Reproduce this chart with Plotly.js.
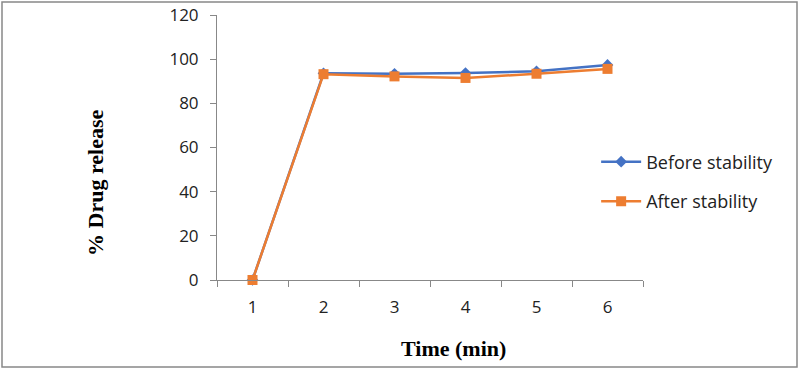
<!DOCTYPE html>
<html>
<head>
<meta charset="utf-8">
<script src="https://cdn.plot.ly/plotly-3.0.1.min.js"></script>
<style>html,body{margin:0;padding:0;background:#fff;}</style>
</head>
<body>
<div id="chart" style="width:799px;height:369px;"></div>
<script>
var categories = ["1", "2", "3", "4", "5", "6"];
var beforeStability = [0, 93.6, 93.4, 93.7, 94.5, 97.4];
var afterStability = [0, 93.2, 92.2, 91.5, 93.4, 95.6];
var yTicks = [0, 20, 40, 60, 80, 100, 120];

var traces = [
  {
    x: categories, y: beforeStability, name: "Before stability", legendgroup: "a",
    type: "scatter", mode: "lines+markers", cliponaxis: false,
    line: {color: "#4472C4", width: 2.5},
    marker: {symbol: "diamond", size: 9, color: "#4472C4"}
  },
  {
    x: categories, y: afterStability, name: "After stability", legendgroup: "b",
    type: "scatter", mode: "lines+markers", cliponaxis: false,
    line: {color: "#ED7D31", width: 2.5},
    marker: {symbol: "square", size: 10, color: "#ED7D31"}
  }
];

var tickFont = {family: "Open Sans, Liberation Sans, sans-serif", size: 17, color: "#222"};

var layout = {
  width: 799, height: 369,
  margin: {l: 217, r: 156, t: 15, b: 89},
  paper_bgcolor: "#ffffff", plot_bgcolor: "#ffffff",
  showlegend: true,
  legend: {x: 0.89, y: 0.515, xanchor: "left", yanchor: "top", traceorder: "grouped",
           font: {family: "Open Sans, Liberation Sans, sans-serif", size: 18, color: "#222"},
           tracegroupgap: 13, itemwidth: 40, bgcolor: "rgba(0,0,0,0)"},
  xaxis: {
    type: "category", range: [-0.5, 5.5], tickson: "boundaries",
    ticks: "outside", ticklen: 6, tickcolor: "#888", showline: true, linecolor: "#888", linewidth: 1,
    showgrid: false, zeroline: false, ticklabelstandoff: 12,
    tickfont: tickFont
  },
  yaxis: {
    range: [0, 120], tickvals: yTicks, ticks: "outside", ticklen: 6, tickcolor: "#888",
    showline: true, linecolor: "#888", linewidth: 1, showgrid: false, zeroline: false,
    ticklabelstandoff: 8,
    tickfont: tickFont
  },
  annotations: [
    {text: "<b>Time (min)</b>", xref: "paper", yref: "paper", x: (453 - 217) / 426, y: (280 - 348) / 265,
     xanchor: "center", yanchor: "middle", showarrow: false,
     font: {family: "Liberation Serif, Times New Roman, serif", size: 22, color: "#000"}},
    {text: "<b>% Drug release</b>", xref: "paper", yref: "paper", x: (95 - 217) / 426, y: (280 - 183) / 265,
     xanchor: "center", yanchor: "middle", showarrow: false, textangle: -90,
     font: {family: "Liberation Serif, Times New Roman, serif", size: 22, color: "#000"}}
  ],
  shapes: [
    {type: "rect", xref: "paper", yref: "paper",
     x0: (2 - 217) / 426, x1: (797 - 217) / 426, y0: (280 - 367) / 265, y1: (280 - 2) / 265,
     line: {color: "#888", width: 1.5}, fillcolor: "rgba(0,0,0,0)"}
  ]
};

Plotly.newPlot("chart", traces, layout, {displayModeBar: false, staticPlot: true});
</script>
</body>
</html>
